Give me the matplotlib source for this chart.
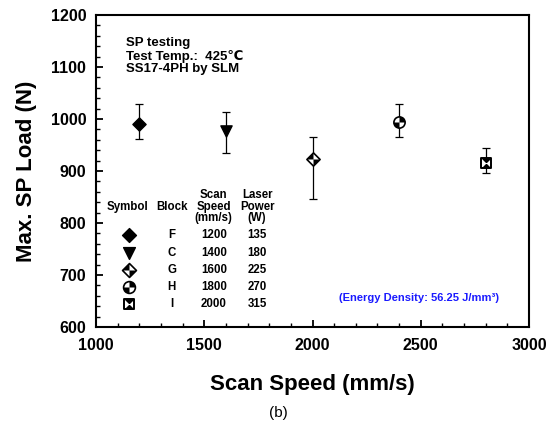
import matplotlib
matplotlib.use("Agg")
import matplotlib.pyplot as plt
from matplotlib.path import Path
from matplotlib.ticker import MultipleLocator
import numpy as np

plt.rcParams['font.family'] = ['Liberation Sans', 'DejaVu Sans']

# ---- data ----
plot_x = [1200, 1600, 2000, 2400, 2800]
sp_load = [990, 977, 924, 994, 915]
err_top = [1028, 1013, 965, 1029, 944]
err_bot = [961, 935, 847, 966, 896]

blocks = ['F', 'C', 'G', 'H', 'I']
scan_speeds = ['1200', '1400', '1600', '1800', '2000']
laser_powers = ['135', '180', '225', '270', '315']

x_ticks = [1000, 1500, 2000, 2500, 3000]
y_ticks = [600, 700, 800, 900, 1000, 1100, 1200]

# ---- custom marker paths ----
def poly(verts):
    verts = list(verts) + [verts[0]]
    codes = [Path.MOVETO] + [Path.LINETO] * (len(verts) - 2) + [Path.CLOSEPOLY]
    return Path(verts, codes)

diamond = poly([(0, 1), (1, 0), (0, -1), (-1, 0)])
diamond_q = Path.make_compound_path(poly([(0, 0), (0, 1), (-1, 0)]),
                                    poly([(0, 0), (0, -1), (1, 0)]))
circle = Path.unit_circle()
circle_q = Path.make_compound_path(Path.wedge(0, 90), Path.wedge(180, 270))
square = poly([(-1, -1), (1, -1), (1, 1), (-1, 1)])
hourglass = Path.make_compound_path(poly([(-1, 1), (1, 1), (0, 0)]),
                                    poly([(-1, -1), (1, -1), (0, 0)]))
tri_down = poly([(-1, 1), (1, 1), (0, -1)])


def draw_marker(ax, x, y, kind, size, **kw):
    base = dict(linestyle='none', zorder=5, **kw)
    if kind == 'F':
        ax.plot(x, y, marker=diamond, ms=size, mfc='black', mec='black', mew=1, **base)
    elif kind == 'C':
        ax.plot(x, y, marker=tri_down, ms=size * 0.85, mfc='black', mec='black', mew=1, **base)
    elif kind == 'G':
        ax.plot(x, y, marker=diamond, ms=size, mfc='white', mec='black', mew=1.2, **base)
        ax.plot(x, y, marker=diamond_q, ms=size, mfc='black', mec='none', mew=0, **base)
    elif kind == 'H':
        ax.plot(x, y, marker=circle, ms=size * 0.85, mfc='white', mec='black', mew=1.2, **base)
        ax.plot(x, y, marker=circle_q, ms=size * 0.85, mfc='black', mec='none', mew=0, **base)
    elif kind == 'I':
        ax.plot(x, y, marker=square, ms=size * 0.75, mfc='white', mec='black', mew=1.4, **base)
        ax.plot(x, y, marker=hourglass, ms=size * 0.75, mfc='black', mec='none', mew=0, **base)


fig = plt.figure(figsize=(5.53, 4.34), dpi=100)
ax = fig.add_axes([96 / 553, 1 - 327 / 434, 433 / 553, 312 / 434])

# error bars
yerr = [np.array(sp_load) - np.array(err_bot), np.array(err_top) - np.array(sp_load)]
ax.errorbar(plot_x, sp_load, yerr=yerr, fmt='none', ecolor='black', elinewidth=0.9,
            capsize=3.2, capthick=0.9, zorder=3)

for xv, yv, b in zip(plot_x, sp_load, blocks):
    draw_marker(ax, xv, yv, b, 9.5)

ax.set_xlim(1000, 3000)
ax.set_ylim(600, 1200)
ax.set_xticks(x_ticks)
ax.set_yticks(y_ticks)
ax.xaxis.set_minor_locator(MultipleLocator(100))
ax.yaxis.set_minor_locator(MultipleLocator(20))
ax.tick_params(which='both', direction='in', top=False, right=False)
ax.tick_params(which='major', length=5, width=1.3, labelsize=11.5)
ax.tick_params(axis='x', which='major', pad=8)
ax.tick_params(axis='y', which='major', pad=7)
ax.tick_params(which='minor', length=3, width=1.0)
for lab in ax.get_xticklabels() + ax.get_yticklabels():
    lab.set_fontweight('bold')
for sp in ax.spines.values():
    sp.set_linewidth(1.5)

ax.set_xlabel('Scan Speed (mm/s)', fontsize=16, fontweight='bold', labelpad=15)
ax.set_ylabel('Max. SP Load (N)', fontsize=16, fontweight='bold', labelpad=10)

# annotation text
ax.text(0.07, 0.93, 'SP testing\nTest Temp.:  425\u2103\nSS17-4PH by SLM', transform=ax.transAxes,
        fontsize=9.5, fontweight='bold', va='top', ha='left', linespacing=1.08)

# table legend
fs = 8.3
tx = [0.072, 0.175, 0.272, 0.372]
ax.text(tx[0], 0.385, 'Symbol', transform=ax.transAxes, fontsize=fs, fontweight='bold', ha='center', va='center')
ax.text(tx[1], 0.385, 'Block', transform=ax.transAxes, fontsize=fs, fontweight='bold', ha='center', va='center')
ax.text(tx[2], 0.385, 'Scan\nSpeed\n(mm/s)', transform=ax.transAxes, fontsize=fs, fontweight='bold',
        ha='center', va='center', linespacing=0.95)
ax.text(tx[3], 0.385, 'Laser\nPower\n(W)', transform=ax.transAxes, fontsize=fs, fontweight='bold',
        ha='center', va='center', linespacing=0.95)
rows_y = [0.295, 0.237, 0.183, 0.128, 0.074]
for ry, b, s, p in zip(rows_y, blocks, scan_speeds, laser_powers):
    draw_marker(ax, 0.076, ry, b, 10, transform=ax.transAxes, clip_on=False)
    ax.text(tx[1], ry, b, transform=ax.transAxes, fontsize=fs, fontweight='bold', ha='center', va='center')
    ax.text(tx[2], ry, s, transform=ax.transAxes, fontsize=fs, fontweight='bold', ha='center', va='center')
    ax.text(tx[3], ry, p, transform=ax.transAxes, fontsize=fs, fontweight='bold', ha='center', va='center')

ax.text(0.746, 0.093, '(Energy Density: 56.25 J/mm\u00b3)', transform=ax.transAxes, fontsize=8,
        fontweight='bold', color='#1a1aff', ha='center', va='center')

fig.text(278 / 553, 1 - 413 / 434, '(b)', fontsize=11, ha='center', va='center')

fig.savefig('out.png', dpi=100)
